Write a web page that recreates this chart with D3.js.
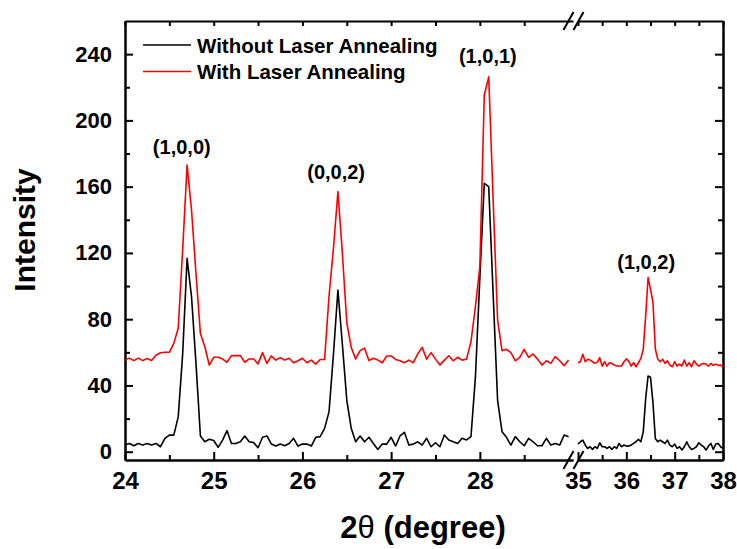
<!DOCTYPE html>
<html>
<head>
<meta charset="utf-8">
<script src="https://cdn.jsdelivr.net/npm/d3@7"></script>
<style>
    body { margin: 0; background: #fff; }
    text { font-family: "Liberation Sans", Arial, sans-serif; font-weight: bold; fill: #000; }
    .xaxis text { font-size: 24px; }
    .yaxis text { font-size: 22px; }
</style>
</head>
<body>
<div id="XRDChart"></div>
<script>

/*
    XRD PATTERN WITH A BROKEN 2-THETA AXIS
*/

// scan settings (constant step of the diffractometer)
var scanStep = 0.05;
var leftStart = 24, rightStart = 35;

// intensities, 24.00 -> 29.00 deg
var withoutLeft = [4, 5, 3.6, 5, 4, 5, 4, 5, 3, 8, 10, 10, 21, 59, 116.7, 93.5, 53.5, 9.5, 6, 7.5,
    6.8, 2.6, 7, 12.7, 5, 5, 6, 9.5, 6, 5.5, 2.4, 8.7, 9.5, 4.6, 3.4, 4.6, 3.6, 5, 8.1, 3.4,
    4.6, 4.6, 3.4, 8.7, 9.1, 14.1, 24.2, 59, 97.6, 65, 31.2, 14.1, 6, 9.5, 6, 8.7, 5, 1.4, 4.6, 4.6,
    8.7, 3.4, 9.5, 11.7, 4, 4.6, 6, 4, 8.1, 3, 5.4, 3, 10.1, 7.1, 6, 5, 8.1, 7.1, 9.1, 45,
    105, 162, 160, 95, 31, 12.1, 8.7, 4, 9.1, 6, 3.6, 8.1, 6, 3.6, 3.6, 8.1, 4, 5, 4, 10.1, 9.1];
var withLeft = [55.3, 56.5, 55, 56.5, 55, 56.3, 55, 58.4, 59.7, 60, 60, 65.4, 74.5, 122, 173, 145.8, 107.7, 71.4, 63.4, 52.3,
    57, 57, 55.9, 54, 58, 58, 58, 54, 56, 56, 53, 59.8, 53.3, 57.8, 55.3, 56.7, 55.3, 56.4, 53.7, 54.9,
    56.4, 53.7, 55.3, 52.9, 55.7, 55.7, 94, 123, 157, 120, 78, 63, 56, 61, 62.5, 55, 56.4, 55.3, 53.7, 57.8,
    57.8, 55.7, 54.9, 53.7, 55.3, 53.7, 59, 63, 55.9, 59.8, 55.9, 52.3, 55.3, 57.9, 54.9, 57, 55.3, 55.9, 66.4, 87.5,
    111.6, 215.3, 226.3, 151.9, 79.5, 61, 61.8, 59.8, 54.9, 57, 61.8, 57, 59, 55.9, 52.3, 54.9, 53.3, 57.4, 54.9, 51.9, 55.3];

// intensities, 35.00 -> 38.00 deg
var withoutRight = [4.6, 6, 7, 4, 2, 3, 1.4, 3, 2, 5.4, 3, 3, 2, 3, 1.4, 3, 2, 5, 3, 4,
    3.4, 3.4, 4, 5, 6, 7.5, 6, 12, 32, 45.7, 45, 30, 8, 6, 7, 6, 5, 7, 4, 3,
    4.6, 2, 3, 1, 3, 6, 3, 1.4, 2, 3, 5.4, 4, 3, 1, 3.4, 5, 1.4, 4.6, 5, 3, 2];
var withRight = [53.7, 54.3, 58.8, 54.3, 55.8, 55.3, 54.3, 53.3, 54.1, 56.8, 51.7, 54.3, 51.7, 53.7, 53.3, 52.3, 51.7, 51.7, 51.7, 54.3,
    56, 54.7, 51.7, 53.7, 51.3, 53.7, 56.3, 61.8, 82, 105.2, 98, 90.5, 62, 56, 54.3, 55.8, 53.3, 54.9, 52.3, 51.3,
    54.3, 51.7, 52.9, 51.7, 55.3, 51.7, 53.7, 51.3, 54.9, 52.9, 51.7, 52.9, 53.3, 52.9, 51.7, 53.3, 52.1, 52.9, 52.1, 52.3, 51.3];

// peak labels
var peakNames = ["(1,0,0)", "(0,0,2)", "(1,0,1)", "(1,0,2)"];
var peakAngles = [24.64, 26.38, 28.09, 36.41];
var peakHeights = [180, 164.5, 234.5, 110];

// ticks
var xMajorLeft = [24, 25, 26, 27, 28], xMinorLeft = [24.5, 25.5, 26.5, 27.5, 28.5];
var xMajorRight = [35, 36, 37, 38], xMinorRight = [35.5, 36.5, 37.5];
var yMajor = [0, 40, 80, 120, 160, 200, 240], yMinor = [20, 60, 100, 140, 180, 220];

var seriesNames = ["Without Laser Annealing", "With Laser Annealing"];
var seriesColors = ["#000000", "#ff0000"];


// define margins for SVG drawing area
var margin = {top: 21, right: 14, bottom: 89, left: 125};
var width = 737 - margin.left - margin.right,
    height = 549 - margin.top - margin.bottom;

var svgRoot = d3.select("#XRDChart").append("svg")
    .attr("width", width + margin.left + margin.right)
    .attr("height", height + margin.top + margin.bottom);

var svg = svgRoot.append("g")
    .attr("transform", "translate(" + margin.left + "," + margin.top + ")");

// scales: two pieces for the broken axis
var xL = d3.scaleLinear().domain([24, 29.05]).range([0, 448]);
var xR = d3.scaleLinear().domain([35, 38]).range([453, width]);
var y = d3.scaleLinear().domain([-5, 260]).range([height, 0]);

function toPoints(values, start) {
    return values.map(function(v, i) { return {angle: start + i * scanStep, value: v}; });
}

function styleAxis(g) {
    g.selectAll("path").attr("stroke-width", 2);
    g.selectAll("line").attr("stroke-width", 2);
    g.attr("font-family", null).attr("font-size", null);
}

// bottom axes
svg.append("g").attr("class", "xaxis").attr("transform", "translate(0," + height + ")")
    .call(d3.axisBottom(xL).tickValues(xMajorLeft).tickFormat(d3.format("d"))
        .tickSizeInner(-8).tickSizeOuter(0).tickPadding(12))
    .call(styleAxis);
svg.append("g").attr("transform", "translate(0," + height + ")")
    .call(d3.axisBottom(xL).tickValues(xMinorLeft).tickSizeInner(-5).tickSizeOuter(0).tickFormat(""))
    .call(styleAxis);
svg.append("g").attr("class", "xaxis").attr("transform", "translate(0," + height + ")")
    .call(d3.axisBottom(xR).tickValues(xMajorRight).tickFormat(d3.format("d"))
        .tickSizeInner(-8).tickSizeOuter(0).tickPadding(12))
    .call(styleAxis);
svg.append("g").attr("transform", "translate(0," + height + ")")
    .call(d3.axisBottom(xR).tickValues(xMinorRight).tickSizeInner(-5).tickSizeOuter(0).tickFormat(""))
    .call(styleAxis);

// top axes, no labels
svg.append("g")
    .call(d3.axisTop(xL).tickValues(xMajorLeft.concat(xMinorLeft)).tickSizeInner(-5).tickSizeOuter(0).tickFormat(""))
    .call(styleAxis);
svg.append("g")
    .call(d3.axisTop(xR).tickValues(xMajorRight.concat(xMinorRight)).tickSizeInner(-5).tickSizeOuter(0).tickFormat(""))
    .call(styleAxis);

// left + right axes
svg.append("g").attr("class", "yaxis")
    .call(d3.axisLeft(y).tickValues(yMajor).tickSizeInner(-8).tickSizeOuter(0).tickPadding(13))
    .call(styleAxis);
svg.append("g")
    .call(d3.axisLeft(y).tickValues(yMinor).tickSizeInner(-5).tickSizeOuter(0).tickFormat(""))
    .call(styleAxis);
svg.append("g").attr("transform", "translate(" + width + ",0)")
    .call(d3.axisRight(y).tickValues(yMajor).tickSizeInner(-8).tickSizeOuter(0).tickFormat(""))
    .call(styleAxis);
svg.append("g").attr("transform", "translate(" + width + ",0)")
    .call(d3.axisRight(y).tickValues(yMinor).tickSizeInner(-5).tickSizeOuter(0).tickFormat(""))
    .call(styleAxis);

// break marks "//" on top and bottom
var bx = (xL.range()[1] + xR.range()[0]) / 2 - 2;
[0, height].forEach(function(yy) {
    [-10, 0].forEach(function(off) {
        svg.append("line")
            .attr("x1", bx + off).attr("y1", yy + 9)
            .attr("x2", bx + off + 10).attr("y2", yy - 9)
            .attr("stroke", "#000").attr("stroke-width", 2);
    });
});

// the patterns
var lineL = d3.line().x(function(d) { return xL(d.angle); }).y(function(d) { return y(d.value); });
var lineR = d3.line().x(function(d) { return xR(d.angle); }).y(function(d) { return y(d.value); });

[[withoutLeft, withoutRight], [withLeft, withRight]].forEach(function(s, i) {
    svg.append("path").datum(toPoints(s[0], leftStart))
        .attr("fill", "none").attr("stroke", seriesColors[i]).attr("stroke-width", 1.6)
        .attr("stroke-linejoin", "round").attr("d", lineL);
    svg.append("path").datum(toPoints(s[1], rightStart))
        .attr("fill", "none").attr("stroke", seriesColors[i]).attr("stroke-width", 1.6)
        .attr("stroke-linejoin", "round").attr("d", lineR);
});

// peak labels
peakNames.forEach(function(name, i) {
    var sx = peakAngles[i] < 30 ? xL : xR;
    svg.append("text")
        .attr("x", sx(peakAngles[i])).attr("y", y(peakHeights[i]))
        .attr("text-anchor", "middle").style("font-size", "20px")
        .text(name);
});

// legend
var legend = svg.append("g").attr("transform", "translate(18,24)");
seriesNames.forEach(function(name, i) {
    legend.append("line")
        .attr("x1", 0).attr("x2", 48).attr("y1", i * 26.5).attr("y2", i * 26.5)
        .attr("stroke", seriesColors[i]).attr("stroke-width", 1.6);
    legend.append("text")
        .attr("x", 54).attr("y", i * 26.5 + 7.5)
        .style("font-size", "20.5px")
        .text(name);
});

// axis titles
svgRoot.append("text")
    .attr("transform", "translate(35,230) rotate(-90)")
    .attr("text-anchor", "middle").style("font-size", "30px")
    .text("Intensity");

var xTitle = svgRoot.append("text")
    .attr("x", 423).attr("y", 538)
    .attr("text-anchor", "middle").style("font-size", "31px");
xTitle.append("tspan").text("2");
xTitle.append("tspan").style("font-weight", "normal").text("\u03b8");
xTitle.append("tspan").text(" (degree)");

</script>
</body>
</html>
